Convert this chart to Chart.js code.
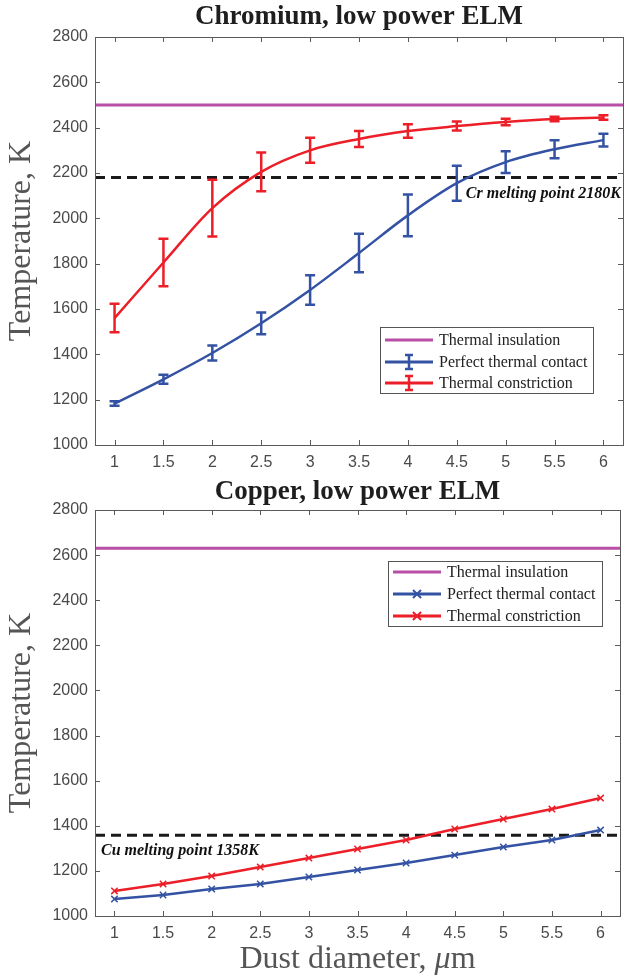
<!DOCTYPE html>
<html>
<head>
<meta charset="utf-8">
<script src="https://cdn.jsdelivr.net/npm/chart.js@4.4.1/dist/chart.umd.min.js"></script>
<style>
  html, body { margin: 0; padding: 0; background: #fff; }
  canvas { display: block; }
</style>
</head>
<body>
<canvas id="crChart" width="644" height="480"></canvas>
<canvas id="cuChart" width="644" height="495"></canvas>
<script>
// ---- data ----
const diameters = [1, 1.5, 2, 2.5, 3, 3.5, 4, 4.5, 5, 5.5, 6];
const xTicks = [1, 1.5, 2, 2.5, 3, 3.5, 4, 4.5, 5, 5.5, 6];
const yTicks = [1000, 1200, 1400, 1600, 1800, 2000, 2200, 2400, 2600, 2800];
const xRange = [0.8, 6.2];
const yRange = [1000, 2800];

// Chromium
const crInsulation = 2500;
const crMelting = 2180;
const crContact = [1183, 1290, 1406, 1537, 1684, 1847, 2013, 2155, 2248, 2305, 2345];
const crContactErr = [10, 20, 33, 48, 65, 85, 92, 77, 48, 40, 28];
const crConstriction = [1560, 1805, 2045, 2205, 2300, 2350, 2385, 2407, 2425, 2438, 2445];
const crConstrictionErr = [63, 105, 125, 85, 55, 35, 30, 20, 14, 10, 10];

// Copper
const cuInsulation = 2630;
const cuMelting = 1358;
const cuContact = [1075, 1093, 1120, 1142, 1173, 1204, 1235, 1270, 1306, 1337, 1381];
const cuConstriction = [1111, 1142, 1177, 1217, 1257, 1297, 1337, 1386, 1430, 1474, 1523];

const RED = '#ec1f28';
const BLUE = '#3452a4';
const MAGENTA = '#b94fa6';
const SERIF = '"Liberation Serif", "Times New Roman", serif';

function points(ys) {
    return diameters.map((x, i) => ({ x: x, y: ys[i] }));
}
function flat(y) {
    return [{ x: xRange[0], y: y }, { x: xRange[1], y: y }];
}

// error bars drawn from dataset.errorBars
const errorBars = {
    id: 'errorBars',
    afterDatasetsDraw(chart) {
        const ctx = chart.ctx;
        const xs = chart.scales.x, ys = chart.scales.y;
        chart.data.datasets.forEach(ds => {
            if (!ds.errorBars) return;
            ctx.save();
            ctx.strokeStyle = ds.borderColor;
            ctx.lineWidth = 2.5;
            ds.data.forEach((p, i) => {
                const e = ds.errorBars[i];
                const px = xs.getPixelForValue(p.x);
                const top = ys.getPixelForValue(p.y + e);
                const bot = ys.getPixelForValue(p.y - e);
                ctx.beginPath();
                ctx.moveTo(px, top); ctx.lineTo(px, bot);
                ctx.moveTo(px - 5, top); ctx.lineTo(px + 5, top);
                ctx.moveTo(px - 5, bot); ctx.lineTo(px + 5, bot);
                ctx.stroke();
            });
            ctx.restore();
        });
    }
};

// matlab like box with inward ticks, titles and note
const frame = {
    id: 'frame',
    afterDraw(chart, args, opts) {
        const ctx = chart.ctx;
        const a = chart.chartArea;
        const xs = chart.scales.x, ys = chart.scales.y;
        ctx.save();
        ctx.strokeStyle = '#5a5a5a';
        ctx.lineWidth = 1;
        ctx.strokeRect(a.left + 0.5, a.top + 0.5, a.right - a.left, a.bottom - a.top);
        ctx.beginPath();
        xTicks.forEach(v => {
            const px = Math.round(xs.getPixelForValue(v)) + 0.5;
            ctx.moveTo(px, a.bottom); ctx.lineTo(px, a.bottom - 5);
            ctx.moveTo(px, a.top); ctx.lineTo(px, a.top + 5);
        });
        yTicks.forEach(v => {
            const py = Math.round(ys.getPixelForValue(v)) + 0.5;
            ctx.moveTo(a.left, py); ctx.lineTo(a.left + 5, py);
            ctx.moveTo(a.right, py); ctx.lineTo(a.right - 5, py);
        });
        ctx.stroke();

        const cx = (a.left + a.right) / 2;
        // title
        ctx.fillStyle = '#1e1e1e';
        ctx.font = 'bold 27px ' + SERIF;
        ctx.textAlign = 'center';
        ctx.textBaseline = 'middle';
        ctx.fillText(opts.title, cx, opts.titleY);

        // y title
        ctx.save();
        ctx.translate(22, (a.top + a.bottom) / 2);
        ctx.rotate(-Math.PI / 2);
        ctx.fillStyle = '#555';
        ctx.font = '32px ' + SERIF;
        ctx.fillText('Temperature, K', 0, 0);
        ctx.restore();

        // x title
        if (opts.xTitleY) {
            ctx.fillStyle = '#555';
            const f1 = '32px ' + SERIF, f2 = 'italic 32px ' + SERIF;
            ctx.font = f1; const w1 = ctx.measureText('Dust diameter, ').width;
            ctx.font = f2; const w2 = ctx.measureText('\u03bc').width;
            ctx.font = f1; const w3 = ctx.measureText('m').width;
            let x0 = cx - (w1 + w2 + w3) / 2;
            ctx.textAlign = 'left';
            ctx.font = f1; ctx.fillText('Dust diameter, ', x0, opts.xTitleY);
            ctx.font = f2; ctx.fillText('\u03bc', x0 + w1, opts.xTitleY);
            ctx.font = f1; ctx.fillText('m', x0 + w1 + w2, opts.xTitleY);
        }

        // melting note
        ctx.fillStyle = '#111';
        ctx.font = 'italic bold 16px ' + SERIF;
        ctx.textAlign = opts.noteAlign;
        const ny = ys.getPixelForValue(opts.noteValue) + 16;
        const nx = opts.noteAlign === 'right' ? a.right - 2 : a.left + 6;
        ctx.fillText(opts.note, nx, ny);
        ctx.restore();
    }
};

// legend box
const legendBox = {
    id: 'legendBox',
    afterDraw(chart, args, opts) {
        const ctx = chart.ctx;
        const b = opts.box;
        ctx.save();
        ctx.fillStyle = '#fff';
        ctx.fillRect(b[0], b[1], b[2], b[3]);
        ctx.strokeStyle = '#555';
        ctx.lineWidth = 1;
        ctx.strokeRect(b[0] + 0.5, b[1] + 0.5, b[2], b[3]);
        ctx.font = '16px ' + SERIF;
        ctx.textBaseline = 'middle';
        ctx.textAlign = 'left';
        opts.rows.forEach((idx, k) => {
            const ds = chart.data.datasets[idx];
            const y = b[1] + opts.rowY[k];
            const x0 = b[0] + 5, x1 = b[0] + 53;
            const xm = (x0 + x1) / 2;
            ctx.strokeStyle = ds.borderColor;
            ctx.lineWidth = 3;
            ctx.beginPath(); ctx.moveTo(x0, y); ctx.lineTo(x1, y); ctx.stroke();
            if (ds.errorBars) {
                ctx.lineWidth = 2.5;
                ctx.beginPath();
                ctx.moveTo(xm, y - 7); ctx.lineTo(xm, y + 7);
                ctx.moveTo(xm - 4, y - 7); ctx.lineTo(xm + 4, y - 7);
                ctx.moveTo(xm - 4, y + 7); ctx.lineTo(xm + 4, y + 7);
                ctx.stroke();
            } else if (ds.pointStyle === 'crossRot') {
                ctx.lineWidth = 2;
                ctx.beginPath();
                ctx.moveTo(xm - 4, y - 4); ctx.lineTo(xm + 4, y + 4);
                ctx.moveTo(xm - 4, y + 4); ctx.lineTo(xm + 4, y - 4);
                ctx.stroke();
            }
            ctx.fillStyle = '#222';
            ctx.fillText(ds.label, b[0] + 59, y + 1);
        });
        ctx.restore();
    }
};

function makeChart(id, datasets, area, h, plugOpts) {
    const ctx = document.getElementById(id).getContext('2d');
    return new Chart(ctx, {
        type: 'line',
        data: { datasets: datasets },
        options: {
            responsive: false,
            animation: false,
            devicePixelRatio: 1,
            layout: { padding: { left: 0, right: 644 - area.right, top: area.top, bottom: 0 } },
            plugins: {
                legend: { display: false },
                tooltip: { enabled: false },
                frame: plugOpts.frame,
                legendBox: plugOpts.legend
            },
            scales: {
                x: {
                    type: 'linear', min: xRange[0], max: xRange[1],
                    afterBuildTicks: s => { s.ticks = xTicks.map(v => ({ value: v })); },
                    afterFit: s => { s.height = h - area.bottom; },
                    grid: { display: false, drawTicks: false },
                    border: { display: false },
                    ticks: {
                        callback: v => String(v), autoSkip: false, maxRotation: 0,
                        color: '#4a4a4a', padding: 8,
                        font: { family: 'Liberation Sans', size: 16 }
                    }
                },
                y: {
                    type: 'linear', min: yRange[0], max: yRange[1],
                    afterBuildTicks: s => { s.ticks = yTicks.map(v => ({ value: v })); },
                    afterFit: s => { s.width = area.left; },
                    grid: { display: false, drawTicks: false },
                    border: { display: false },
                    ticks: {
                        callback: v => String(v),
                        color: '#4a4a4a', padding: 7,
                        font: { family: 'Liberation Sans', size: 16 }
                    }
                }
            }
        },
        plugins: [errorBars, frame, legendBox]
    });
}

// ---- Chromium ----
makeChart('crChart', [
    { label: 'Thermal insulation', data: flat(crInsulation), borderColor: MAGENTA, borderWidth: 3, pointRadius: 0, order: 2 },
    { label: 'melting', data: flat(crMelting), borderColor: '#1a1a1a', borderWidth: 3, borderDash: [10, 6], pointRadius: 0, order: 3 },
    { label: 'Perfect thermal contact', data: points(crContact), errorBars: crContactErr, borderColor: BLUE, borderWidth: 2.5,
      pointRadius: 0, cubicInterpolationMode: 'monotone', order: 1 },
    { label: 'Thermal constriction', data: points(crConstriction), errorBars: crConstrictionErr, borderColor: RED, borderWidth: 2.5,
      pointRadius: 0, cubicInterpolationMode: 'monotone', order: 0 }
], { left: 95, right: 623, top: 37, bottom: 445 }, 480, {
    frame: { title: 'Chromium, low power ELM', titleY: 17, note: 'Cr melting point 2180K', noteValue: crMelting, noteAlign: 'right' },
    legend: { box: [380, 327, 213, 66], rowY: [13, 35, 56], rows: [0, 2, 3] }
});

// ---- Copper ----
makeChart('cuChart', [
    { label: 'Thermal insulation', data: flat(cuInsulation), borderColor: MAGENTA, borderWidth: 3, pointRadius: 0, order: 2 },
    { label: 'melting', data: flat(cuMelting), borderColor: '#1a1a1a', borderWidth: 3, borderDash: [10, 6], pointRadius: 0, order: 3 },
    { label: 'Perfect thermal contact', data: points(cuContact), borderColor: BLUE, borderWidth: 2.5,
      pointStyle: 'crossRot', pointRadius: 4.5, pointBorderWidth: 1.5, pointBorderColor: BLUE, order: 1 },
    { label: 'Thermal constriction', data: points(cuConstriction), borderColor: RED, borderWidth: 2.5,
      pointStyle: 'crossRot', pointRadius: 4.5, pointBorderWidth: 1.5, pointBorderColor: RED, order: 0 }
], { left: 95, right: 620, top: 30, bottom: 436 }, 495, {
    frame: { title: 'Copper, low power ELM', titleY: 12, xTitleY: 480, note: 'Cu melting point 1358K', noteValue: cuMelting, noteAlign: 'left' },
    legend: { box: [388, 81, 214, 65], rowY: [11, 33, 55], rows: [0, 2, 3] }
});
</script>
</body>
</html>
